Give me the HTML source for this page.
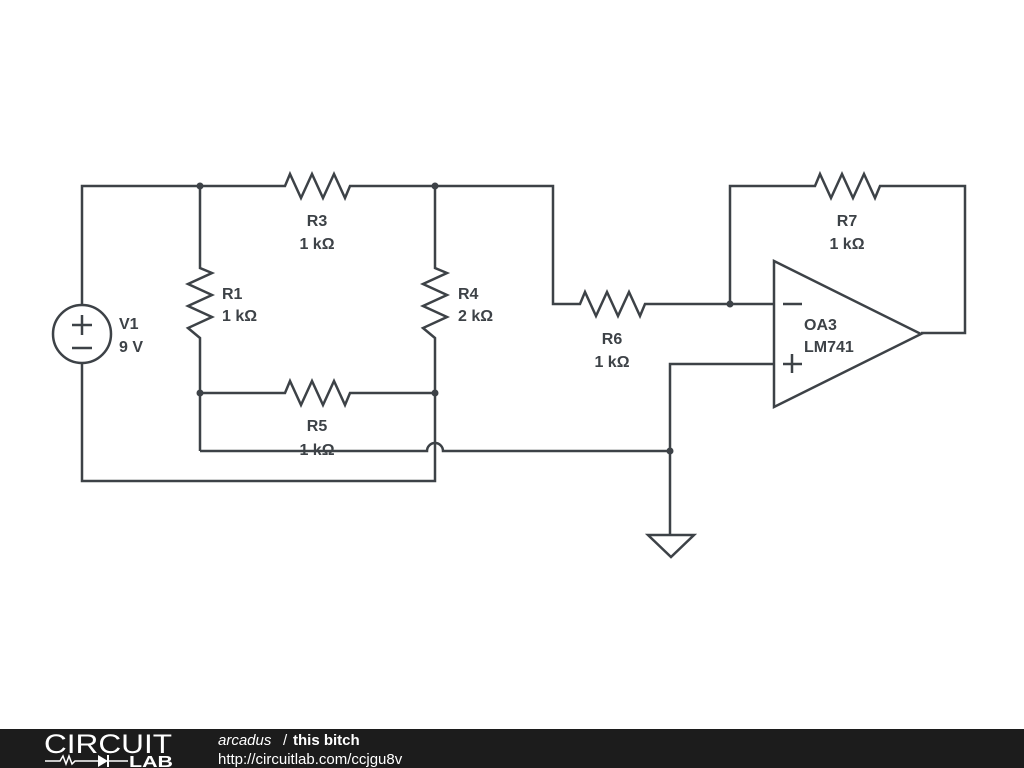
<!DOCTYPE html>
<html><head><style>
html,body{margin:0;padding:0;background:#fff;}
svg{display:block;}
text{font-family:"Liberation Sans",sans-serif;font-weight:bold;font-size:16px;fill:#3d4247;}
</style></head><body>
<svg width="1024" height="768" viewBox="0 0 1024 768">
<g fill="none" stroke="#3d4247" stroke-width="2.5" stroke-linejoin="miter">
<polyline points="82,305 82,186 285,186 290,174 301,198 312,174 323,198 334,174 345,198 350,186 553,186 553,304 580,304 585,292 596,316 607,292 618,316 629,292 640,316 645,304 774,304"/>
<polyline points="200,186 200,268 212,273 188,284 212,295 188,306 212,317 188,328 200,338 200,451"/>
<polyline points="435,186 435,268 447,273 423,284 447,295 423,306 447,317 423,328 435,338 435,481 82,481 82,363"/>
<polyline points="200,393 285,393 290,381 301,405 312,381 323,405 334,381 345,405 350,393 435,393"/>
<path d="M200,451 L427,451 A8,8 0 0 1 443,451 L670,451"/>
<polyline points="774,364 670,364 670,535"/>
<polygon points="648,535 694,535 671,557"/>
<polyline points="730,304 730,186 815,186 820,174 831,198 842,174 853,198 864,174 875,198 880,186 965,186 965,333 921,333"/>
<polygon points="774,261 921,334 774,407"/>
<line x1="783" y1="304" x2="802" y2="304"/>
<line x1="783" y1="364" x2="802" y2="364"/><line x1="792" y1="354" x2="792" y2="373"/>
<circle cx="82" cy="334" r="29"/>
<line x1="72" y1="325" x2="92" y2="325"/><line x1="82" y1="315" x2="82" y2="335"/>
<line x1="72" y1="348" x2="92" y2="348"/>
</g>
<g fill="#3d4247">
<circle cx="200" cy="186" r="3.5"/><circle cx="435" cy="186" r="3.5"/>
<circle cx="200" cy="393" r="3.5"/><circle cx="435" cy="393" r="3.5"/>
<circle cx="670" cy="451" r="3.5"/><circle cx="730" cy="304" r="3.5"/>
</g>
<text x="317" y="226" text-anchor="middle">R3</text><text x="317" y="249" text-anchor="middle">1 kΩ</text>
<text x="222" y="299">R1</text><text x="222" y="321">1 kΩ</text>
<text x="458" y="299">R4</text><text x="458" y="321">2 kΩ</text>
<text x="119" y="329">V1</text><text x="119" y="352">9 V</text>
<text x="317" y="431" text-anchor="middle">R5</text><text x="317" y="455" text-anchor="middle">1 kΩ</text>
<text x="612" y="344" text-anchor="middle">R6</text><text x="612" y="367" text-anchor="middle">1 kΩ</text>
<text x="847" y="226" text-anchor="middle">R7</text><text x="847" y="249" text-anchor="middle">1 kΩ</text>
<text x="804" y="330">OA3</text><text x="804" y="352">LM741</text>
<rect x="0" y="729" width="1024" height="39" fill="#1c1c1c"/>
<text x="44" y="753" textLength="128" lengthAdjust="spacingAndGlyphs" style="font-weight:normal;font-size:27px;fill:#fff">CIRCUIT</text>
<polyline points="45,761 60,761 63,756 66,764 69,756 72,764 75,761 98,761" fill="none" stroke="#fff" stroke-width="1.5"/>
<polygon points="98,755 108,761 98,767" fill="#fff"/>
<line x1="108" y1="755" x2="108" y2="767" stroke="#fff" stroke-width="2"/>
<line x1="108" y1="761" x2="128" y2="761" stroke="#fff" stroke-width="1.5"/>
<text x="129" y="767" textLength="44" lengthAdjust="spacingAndGlyphs" style="font-size:16px;fill:#fff">LAB</text>
<text x="218" y="745" style="font-size:15px;fill:#fff;font-weight:normal;font-style:italic">arcadus</text>
<text x="283" y="745" style="font-size:15px;fill:#fff;font-weight:normal">/</text>
<text x="293" y="745" style="font-size:15px;fill:#fff">this bitch</text>
<text x="218" y="764" style="font-size:15px;fill:#fff;font-weight:normal">http://circuitlab.com/ccjgu8v</text>
</svg>
</body></html>
